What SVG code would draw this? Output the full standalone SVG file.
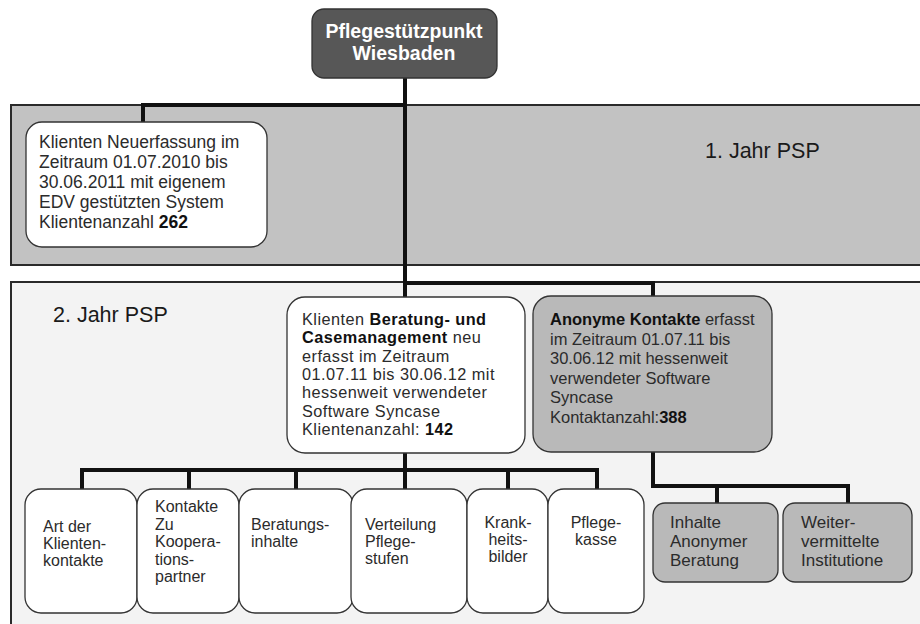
<svg xmlns="http://www.w3.org/2000/svg" width="920" height="624" viewBox="0 0 920 624">
<style>
.bg{fill:#ffffff}
.panel1{fill:#c2c2c2;stroke:#2a2a2a;stroke-width:2}
.panel2{fill:#f3f3f3;stroke:#2a2a2a;stroke-width:2}
.box{fill:#ffffff;stroke:#333;stroke-width:1.3}
.gbox{fill:#b9b9b9;stroke:#333;stroke-width:1.3}
.top{fill:#575757;stroke:#333;stroke-width:1.3}
.conn{fill:none;stroke:#111;stroke-width:4;stroke-linecap:square}
text{font-family:"Liberation Sans",Arial,sans-serif;fill:#2b2b2b}
.t175{font-size:17.5px}
.tmid{font-size:16.3px;letter-spacing:0.45px}
.t17{font-size:17px}
.t165{font-size:16.5px}
.t16{font-size:16px}
.big{font-size:21.5px;fill:#1a1a1a}
.title{font-size:19.5px;font-weight:bold;fill:#ffffff}
.b{font-weight:bold;fill:#111}
.c{text-anchor:middle}
</style>
<rect class="bg" x="0" y="0" width="920" height="624"/>

<g id="panel-jahr1">
<rect class="panel1" x="11" y="105" width="920" height="160"/>
<text class="big" x="705" y="158">1. Jahr PSP</text>
</g>
<g id="panel-jahr2">
<rect class="panel2" x="11" y="282" width="920" height="360"/>
<text class="big" x="53" y="322">2. Jahr PSP</text>
</g>

<g id="connectors">
<path class="conn" d="M405 78 V297"/>
<path class="conn" d="M143 105 H405"/>
<path class="conn" d="M143 105 V121"/>
<path class="conn" d="M405 283 H653 V296"/>
<path class="conn" d="M405 453 V489"/>
<path class="conn" d="M82 470 H597"/>
<path class="conn" d="M82 470 V489 M189 470 V489 M296 470 V489 M508 470 V489 M597 470 V489"/>
<path class="conn" d="M653 452 V486 H848 V502"/>
<path class="conn" d="M717 486 V502"/>
</g>

<g id="node-psp">
<rect class="top" x="312" y="9" width="185" height="69" rx="12"/>
<text class="title c" x="404" y="38">Pflegestützpunkt</text>
<text class="title c" x="404" y="60">Wiesbaden</text>
</g>

<g id="node-jahr1">
<rect class="box" x="26" y="122" width="241" height="125" rx="16"/>
<text class="t175" x="39"><tspan x="39" y="148">Klienten Neuerfassung im</tspan><tspan x="39" y="168">Zeitraum 01.07.2010 bis</tspan><tspan x="39" y="188">30.06.2011 mit eigenem</tspan><tspan x="39" y="208">EDV gestützten System</tspan><tspan x="39" y="228">Klientenanzahl <tspan class="b">262</tspan></tspan></text>
</g>

<g id="node-beratung">
<rect class="box" x="287" y="297" width="238" height="156" rx="18"/>
<text class="tmid"><tspan x="302" y="325">Klienten <tspan class="b">Beratung- und</tspan></tspan><tspan x="302" y="343.3"><tspan class="b">Casemanagement</tspan> neu</tspan><tspan x="302" y="361.6">erfasst im Zeitraum</tspan><tspan x="302" y="379.9">01.07.11 bis 30.06.12 mit</tspan><tspan x="302" y="398.2">hessenweit verwendeter</tspan><tspan x="302" y="416.5">Software Syncase</tspan><tspan x="302" y="434.8">Klientenanzahl: <tspan class="b">142</tspan></tspan></text>
</g>

<g id="node-anonym">
<rect class="gbox" x="533" y="296" width="239" height="156" rx="18"/>
<text class="t165"><tspan x="550" y="325"><tspan class="b">Anonyme Kontakte</tspan> erfasst</tspan><tspan x="550" y="344.6">im Zeitraum 01.07.11 bis</tspan><tspan x="550" y="364.2">30.06.12 mit hessenweit</tspan><tspan x="550" y="383.8">verwendeter Software</tspan><tspan x="550" y="403.4">Syncase</tspan><tspan x="550" y="423">Kontaktanzahl:<tspan class="b">388</tspan></tspan></text>
</g>

<g id="node-art">
<rect class="box" x="25" y="489" width="112" height="124" rx="16"/>
<text class="t16"><tspan x="43" y="532">Art der</tspan><tspan x="43" y="549">Klienten-</tspan><tspan x="43" y="566">kontakte</tspan></text>
</g>
<g id="node-kontakte">
<rect class="box" x="137" y="489" width="102" height="124" rx="16"/>
<text class="t16"><tspan x="155" y="512">Kontakte</tspan><tspan x="155" y="529.5">Zu</tspan><tspan x="155" y="547">Koopera-</tspan><tspan x="155" y="564.5">tions-</tspan><tspan x="155" y="582">partner</tspan></text>
</g>
<g id="node-beratungsinhalte">
<rect class="box" x="239" y="489" width="114" height="124" rx="16"/>
<text class="t16"><tspan x="251" y="530">Beratungs-</tspan><tspan x="251" y="547">inhalte</tspan></text>
</g>
<g id="node-pflegestufen">
<rect class="box" x="351" y="489" width="116" height="124" rx="16"/>
<text class="t16"><tspan x="365" y="530">Verteilung</tspan><tspan x="365" y="547">Pflege-</tspan><tspan x="365" y="564">stufen</tspan></text>
</g>
<g id="node-krankheitsbilder">
<rect class="box" x="467" y="489" width="81" height="124" rx="16"/>
<text class="t16 c"><tspan x="508" y="528">Krank-</tspan><tspan x="508" y="545">heits-</tspan><tspan x="508" y="562">bilder</tspan></text>
</g>
<g id="node-pflegekasse">
<rect class="box" x="548" y="489" width="96" height="124" rx="16"/>
<text class="t16 c"><tspan x="596" y="528">Pflege-</tspan><tspan x="596" y="545">kasse</tspan></text>
</g>

<g id="node-inhalte-anonym">
<rect class="gbox" x="653" y="503" width="125" height="79" rx="12"/>
<text class="t17"><tspan x="670" y="528">Inhalte</tspan><tspan x="670" y="547">Anonymer</tspan><tspan x="670" y="566">Beratung</tspan></text>
</g>
<g id="node-weiter">
<rect class="gbox" x="783" y="503" width="129" height="79" rx="12"/>
<text class="t17"><tspan x="801" y="528">Weiter-</tspan><tspan x="801" y="547">vermittelte</tspan><tspan x="801" y="566">Institutione</tspan></text>
</g>
</svg>
